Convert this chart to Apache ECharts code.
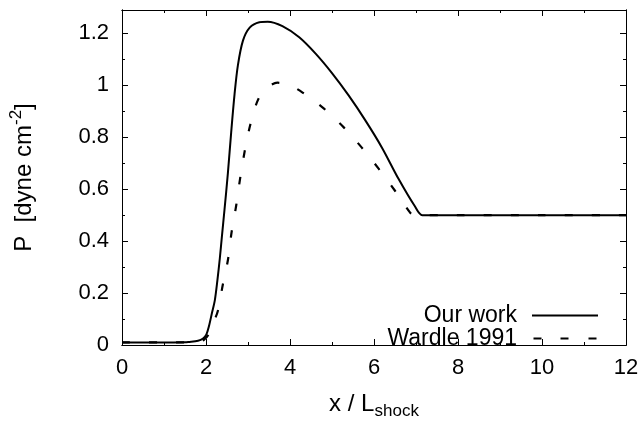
<!DOCTYPE html>
<html>
<head>
<meta charset="utf-8">
<script src="https://cdn.jsdelivr.net/npm/echarts@6/dist/echarts.min.js"></script>
<style>html,body{margin:0;padding:0;background:#fff}#c{width:644px;height:425px}</style>
</head>
<body>
<div id="c"></div>
<script>
// Data
const ourWorkX = [0, 0.5, 1.0, 1.5, 1.58, 1.81, 1.93, 2.01, 2.07, 2.14, 2.21, 2.27, 2.33, 2.38, 2.44, 2.52, 2.60, 2.68, 2.76, 2.88, 3.04, 3.27, 3.47, 3.82, 4.22, 4.61, 5.00, 5.40, 5.79, 6.19, 6.58, 6.97, 7.15, 8, 10, 12];
const ourWorkY = [0.01, 0.01, 0.01, 0.011, 0.012, 0.016, 0.025, 0.041, 0.072, 0.122, 0.172, 0.247, 0.335, 0.42, 0.52, 0.66, 0.82, 0.966, 1.078, 1.172, 1.222, 1.243, 1.245, 1.228, 1.185, 1.122, 1.047, 0.960, 0.866, 0.760, 0.641, 0.535, 0.5, 0.5, 0.5, 0.5];
const wardleX = [0, 1.0, 1.5, 1.85, 1.95, 2.06, 2.16, 2.28, 2.40, 2.525, 2.61, 2.72, 2.81, 2.92, 3.05, 3.24, 3.45, 3.70, 4.0, 4.30, 4.81, 5.28, 5.71, 6.11, 6.50, 6.86, 6.95, 8, 10, 12];
const wardleY = [0.01, 0.01, 0.01, 0.012, 0.02, 0.04, 0.08, 0.13, 0.232, 0.33, 0.435, 0.538, 0.639, 0.745, 0.845, 0.945, 0.99, 1.01, 1.0, 0.972, 0.910, 0.838, 0.760, 0.679, 0.594, 0.510, 0.5, 0.5, 0.5, 0.5];
const seriesNames = ['Our work', 'Wardle 1991'];
const xMin = 0, xMax = 12, xMajor = 2, xMinor = 1;
const yMin = 0, yMax = 1.29, yMajor = 0.2, yMinor = 0.1;

const FONT = '"Liberation Sans", Arial, Helvetica, sans-serif';
const pair = (xs, ys) => xs.map((x, i) => [x, ys[i]]);

function xAx(pos, interval, tickLen, labels) {
  return {
    type: 'value', position: pos, min: xMin, max: xMax, interval: interval,
    axisLine: { show: true, onZero: false, lineStyle: { color: '#000', width: 1 } },
    axisTick: { show: true, inside: true, length: tickLen, lineStyle: { color: '#000', width: 1 } },
    axisLabel: { show: labels, color: '#000', fontSize: 22, fontFamily: FONT, margin: 12 },
    splitLine: { show: false }
  };
}
function yAx(pos, interval, tickLen, labels) {
  return {
    type: 'value', position: pos, min: yMin, max: yMax, interval: interval,
    axisLine: { show: true, onZero: false, lineStyle: { color: '#000', width: 1 } },
    axisTick: { show: true, inside: true, length: tickLen, lineStyle: { color: '#000', width: 1 } },
    axisLabel: { show: labels, color: '#000', fontSize: 22, fontFamily: FONT, margin: 13, showMaxLabel: false,
      formatter: v => String(Math.round(v * 10) / 10) },
    splitLine: { show: false }
  };
}

const xAxes = [
  Object.assign(xAx('bottom', xMajor, 6, true), {
    name: '{n|x / L}{sub|shock}', nameLocation: 'middle', nameGap: 43,
    nameTextStyle: { rich: {
      n: { fontSize: 24, fontFamily: FONT, color: '#000', lineHeight: 32, verticalAlign: 'middle' },
      sub: { fontSize: 17, fontFamily: FONT, color: '#000', lineHeight: 32, verticalAlign: 'bottom' } } }
  }),
  xAx('top', xMajor, 6, false),
  xAx('bottom', xMinor, 3, false),
  xAx('top', xMinor, 3, false)
];
const yAxes = [
  Object.assign(yAx('left', yMajor, 6, true), {
    name: '{n|P  [dyne cm}{sup|-2}{n|]}', nameLocation: 'middle', nameGap: 82, nameRotate: 90,
    nameTextStyle: { rich: {
      n: { fontSize: 24, fontFamily: FONT, color: '#000', lineHeight: 32, verticalAlign: 'middle' },
      sup: { fontSize: 17, fontFamily: FONT, color: '#000', lineHeight: 32, verticalAlign: 'top' } } }
  }),
  yAx('right', yMajor, 6, false),
  yAx('left', yMinor, 3, false),
  yAx('right', yMinor, 3, false)
];

const chart = echarts.init(document.getElementById('c'), null, { renderer: 'canvas' });
chart.setOption({
  backgroundColor: '#fff',
  animation: false,
  grid: { left: 118, right: 18, top: 10, bottom: 71, containLabel: false },
  xAxis: xAxes,
  yAxis: yAxes,
  legend: {
    data: [
      { name: seriesNames[0], icon: 'rect' },
      { name: seriesNames[1], icon: 'path://M0,0h8v2h-8z M27,0h8v2h-8z M55,0h8v2h-8z' }
    ],
    orient: 'vertical', align: 'right', padding: 0,
    right: 46, top: 304, itemGap: 0, itemWidth: 66, itemHeight: 2,
    itemStyle: { color: '#000', borderWidth: 0 },
    textStyle: { fontSize: 23, fontFamily: FONT, color: '#000', lineHeight: 22, padding: [0, 10, 0, 0] },
    inactiveColor: '#000'
  },
  series: [
    { name: seriesNames[0], type: 'line', data: pair(ourWorkX, ourWorkY), xAxisIndex: 0, yAxisIndex: 0,
      symbol: 'none', showSymbol: false, smooth: 0.3, color: '#000',
      lineStyle: { color: '#000', width: 2 } },
    { name: seriesNames[1], type: 'line', data: pair(wardleX, wardleY), xAxisIndex: 0, yAxisIndex: 0,
      symbol: 'none', showSymbol: false, smooth: 0.3, color: '#000',
      lineStyle: { color: '#000', width: 2.2, type: [8, 19] } }
  ]
});
</script>
</body>
</html>
